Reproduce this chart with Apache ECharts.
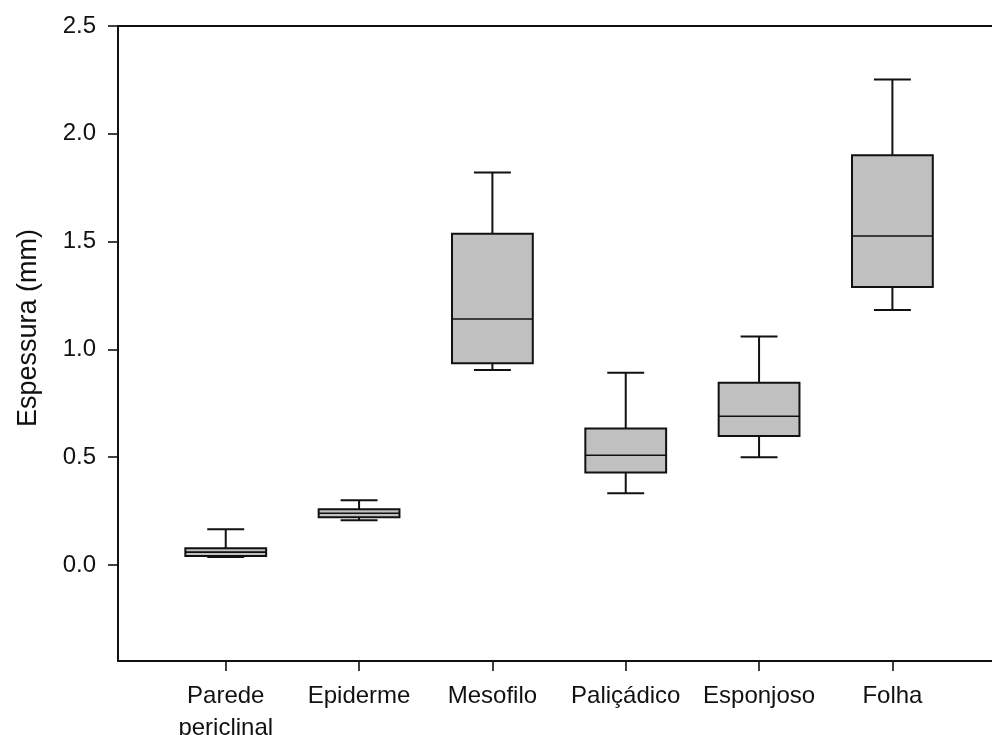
<!DOCTYPE html>
<html>
<head>
<meta charset="utf-8">
<script src="https://cdn.jsdelivr.net/npm/echarts@6/dist/echarts.min.js"></script>
<style>html,body{margin:0;padding:0;background:#fff;}#c{width:992px;height:735px;}</style>
</head>
<body>
<div id="c"></div>
<script>
var categories = ['Parede\npericlinal', 'Epiderme', 'Mesofilo', 'Paliçádico', 'Esponjoso', 'Folha'];
var whiskerLow  = [0.037, 0.208, 0.905, 0.333, 0.500, 1.183];
var q1          = [0.042, 0.222, 0.936, 0.429, 0.598, 1.289];
var median      = [0.060, 0.240, 1.141, 0.509, 0.690, 1.526];
var q3          = [0.078, 0.259, 1.536, 0.633, 0.846, 1.900];
var whiskerHigh = [0.166, 0.301, 1.821, 0.892, 1.060, 2.252];
var yTicks = [0, 0.5, 1.0, 1.5, 2.0, 2.5];
var xTicks = [1, 2, 3, 4, 5, 6];

var FONT = 'Liberation Sans, Arial, sans-serif';
var INK = '#111';

var boxData = categories.map(function (c, i) {
  return [xTicks[i], whiskerLow[i], q1[i], median[i], q3[i], whiskerHigh[i]];
});

function renderBox(params, api) {
  var x = api.value(0);
  var pLow = api.coord([x, api.value(1)]);
  var pQ1 = api.coord([x, api.value(2)]);
  var pMed = api.coord([x, api.value(3)]);
  var pQ3 = api.coord([x, api.value(4)]);
  var pHigh = api.coord([x, api.value(5)]);
  var unit = api.size([1, 0])[0];
  var bw = unit * 0.606;
  var cw = unit * 0.277;
  var cx = pMed[0];
  var st = { stroke: INK, lineWidth: 2, fill: null };
  return {
    type: 'group',
    children: [
      { type: 'line', shape: { x1: cx, y1: pQ3[1], x2: cx, y2: pHigh[1] }, style: st },
      { type: 'line', shape: { x1: cx - cw / 2, y1: pHigh[1], x2: cx + cw / 2, y2: pHigh[1] }, style: st },
      { type: 'line', shape: { x1: cx, y1: pQ1[1], x2: cx, y2: pLow[1] }, style: st },
      { type: 'line', shape: { x1: cx - cw / 2, y1: pLow[1], x2: cx + cw / 2, y2: pLow[1] }, style: st },
      { type: 'rect', shape: { x: cx - bw / 2, y: pQ3[1], width: bw, height: pQ1[1] - pQ3[1] },
        style: { fill: '#c0c0c0', stroke: INK, lineWidth: 2 } },
      { type: 'line', shape: { x1: cx - bw / 2, y1: pMed[1], x2: cx + bw / 2, y2: pMed[1] }, style: { stroke: INK, lineWidth: 1.6 } }
    ]
  };
}

var chart = echarts.init(document.getElementById('c'), null, { renderer: 'canvas' });
chart.setOption({
  animation: false,
  backgroundColor: '#fff',
  grid: { left: 118, right: 0, top: 26, bottom: 74, containLabel: false, outerBoundsMode: 'none' },
  xAxis: [{
    type: 'value', min: 0.192, max: 6.747, position: 'bottom',
    splitLine: { show: false },
    axisLine: { show: true, onZero: false, lineStyle: { color: INK, width: 2 } },
    axisTick: { show: true, length: 10, customValues: xTicks, lineStyle: { color: INK, width: 1.6 } },
    axisLabel: {
      show: true, customValues: xTicks, margin: 19,
      color: '#111', fontSize: 24, fontFamily: FONT, lineHeight: 32,
      formatter: function (v) { return categories[Math.round(v) - 1] || ''; }
    }
  }, {
    type: 'value', min: 0.192, max: 6.747, position: 'top',
    splitLine: { show: false },
    axisLine: { show: true, onZero: false, lineStyle: { color: INK, width: 2 } },
    axisTick: { show: false }, axisLabel: { show: false }
  }],
  yAxis: {
    type: 'value', min: -0.445, max: 2.5,
    splitLine: { show: false },
    axisLine: { show: true, onZero: false, lineStyle: { color: INK, width: 2 } },
    axisTick: { show: true, length: 10, customValues: yTicks, lineStyle: { color: INK, width: 1.6 } },
    axisLabel: {
      show: true, customValues: yTicks, margin: 22,
      color: '#111', fontSize: 24, fontFamily: FONT,
      formatter: function (v) { return v.toFixed(1); }
    },
    name: 'Espessura (mm)', nameLocation: 'middle', nameGap: 76,
    nameTextStyle: { color: '#111', fontSize: 27, fontFamily: FONT, padding: [0, 0, 0, 31] }
  },
  series: [{
    type: 'custom',
    xAxisIndex: 0, yAxisIndex: 0,
    renderItem: renderBox,
    encode: { x: 0, y: [1, 2, 3, 4, 5] },
    data: boxData,
    clip: false
  }]
});
</script>
</body>
</html>
